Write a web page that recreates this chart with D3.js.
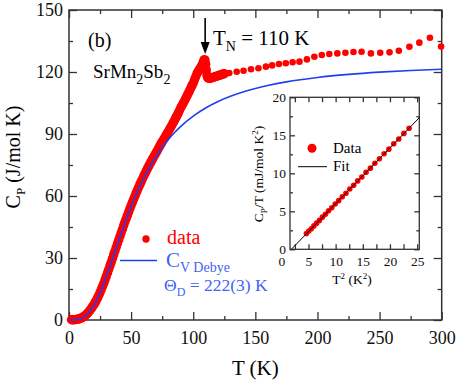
<!DOCTYPE html>
<html>
<head>
<meta charset="utf-8">
<script src="https://cdn.jsdelivr.net/npm/d3@7"></script>
<style>
body { margin: 0; background: #fff; }
</style>
</head>
<body>
<script>
// main panel: dense low-T data (band of dots) and sparse high-T points
var denseT = [2,3,4,5,6,7,8,9,10,11,12,13,14,15,16,17,18,19,20,
  21,22,23,24,25,26,27,28,29,30,31,32,33,34,35,36,37,38,39,40,
  41,42,43,44,45,46,47,48,49,50,51,52,53,54,55,56,57,58,59,60,
  61,62,63,64,65,66,67,68,69,70,71,72,73,74,75,76,77,78,79,80,
  81,82,83,84,85,86,87,88,89,90,91,92,93,94,95,96,97,98,99,100,
  101,102,103,104,105,106,107,108,108.5,109,109.5,110,110.5,111,111.5,112,
  113,114,115,116,117,118,119,120,121,122,123,124,125];
var denseC = [0.1,0.1,0.15,0.2,0.3,0.4,0.55,0.75,1.0,1.3,1.7,2.2,2.7,3.3,4.0,4.8,5.6,6.5,7.4,
  8.4,9.5,10.7,12.0,13.3,14.8,16.3,17.8,19.4,21.1,22.8,24.5,26.3,28.0,29.8,31.6,33.4,35.2,37.0,38.7,
  40.5,42.2,43.9,45.7,47.4,49.0,50.6,52.2,53.8,55.4,56.9,58.4,59.9,61.4,62.8,64.2,65.5,66.8,68.1,69.4,
  70.6,71.9,73.1,74.2,75.4,76.5,77.6,78.7,79.8,80.8,81.9,83.0,84.1,85.2,86.2,87.2,88.2,89.2,90.3,91.3,
  92.4,93.4,94.5,95.6,96.7,97.9,99.0,100.2,101.5,102.8,103.9,105.0,106.1,107.3,108.5,109.7,110.9,112.2,113.4,114.7,
  116.2,117.7,119.2,120.3,121.3,122.3,123.3,124.6,125.4,126.0,125.6,123.8,121.0,118.6,117.5,117.1,
  116.9,117.0,117.2,117.4,117.6,117.8,118.0,118.2,118.4,118.6,118.8,119.0,119.2];

var sparseT = [129,135,140.5,146.5,152.5,158.5,163.5,169,174.5,180,185.5,191.5,197.5,203.5,
  209.5,216,222.5,229,235.5,243,250.5,258,265.5,274,282,290.5,299.5];
var sparseC = [119.5,120.1,120.6,121.3,121.8,122.6,123.2,123.9,124.2,124.7,125.0,126.1,127.4,128.2,
  128.7,129.0,129.3,129.7,129.8,129.0,129.3,129.5,130.3,132.2,134.2,136.6,132.3];

// Debye curve, theta_D = 222 K
var debyeT = [0,2,5,8,10,12,15,20,25,30,35,40,45,50,55,60,65,70,75,80,85,90,
  100,110,120,130,140,150,160,175,200,225,250,275,300];
var debyeC = [0,0.01,0.11,0.46,0.89,1.54,3.00,7.01,13.12,20.89,29.56,38.43,46.97,54.89,62.06,68.46,
  74.06,79.04,83.48,87.34,90.71,93.70,98.67,102.59,105.73,108.26,110.34,112.05,113.48,115.23,
  117.35,118.84,119.93,120.74,121.35];

var xMajor = [0,50,100,150,200,250,300];
var xMinor = [25,75,125,175,225,275];
var yMajor = [0,30,60,90,120,150];
var yMinor = [15,45,75,105,135];
var TN = 110;

// inset: Cp/T vs T^2
var insetX = [4.62,5.06,5.52,6.00,6.50,7.02,7.56,8.12,8.70,9.30,9.92,10.56,11.22,11.90,
  12.60,13.32,14.06,14.82,15.60,16.40,17.22,18.06,18.92,19.80,20.70,21.62,22.56,23.52];
var insetY = [2.08,2.40,2.70,3.08,3.44,3.80,4.23,4.60,5.06,5.47,5.96,6.40,6.92,7.38,
  7.93,8.42,9.00,9.52,10.14,10.68,11.33,11.90,12.58,13.18,13.88,14.52,15.25,15.92];
var fitX = [1.84,25.4];
var fitY = [0,17.32];
var ixLabels = [0,5,10,15,20,25];
var ixTicks = [2.5,5,7.5,10,12.5,15,17.5,20,22.5,25];
var iyMajor = [0,5,10,15,20];
var iyMinor = [2.5,7.5,12.5,17.5];

var width = 457, height = 380;
var ink = "#333", red = "#ff0000", blue = "#1f3ff0", blueText = "#4164f6";
var serif = "'Liberation Serif', serif";

var svg = d3.select("body").append("svg")
    .attr("width", width)
    .attr("height", height)
    .style("display", "block")
    .style("font-family", serif);

var x = d3.scaleLinear().domain([0, 300]).range([69, 441.7]);
var y = d3.scaleLinear().domain([0, 150]).range([320, 10]);

function styleAxis(g, fs){
  g.attr("font-family", null).style("font-family", serif);
  g.select(".domain").remove();
  g.selectAll(".tick line").attr("stroke", ink).attr("stroke-width", 1.3);
  g.selectAll(".tick text").attr("fill", "#111")
      .style("font-size", fs + "px").style("font-family", serif);
}

// main axes, ticks pointing inward on all four sides
svg.append("g").attr("transform", "translate(0,320)")
    .call(d3.axisBottom(x).tickValues(xMajor).tickSize(-8).tickPadding(11))
    .call(styleAxis, 18);
svg.append("g").attr("transform", "translate(0,320)")
    .call(d3.axisBottom(x).tickValues(xMinor).tickSize(-4).tickFormat(""))
    .call(styleAxis, 18);
svg.append("g").attr("transform", "translate(0,10)")
    .call(d3.axisTop(x).tickValues(xMajor).tickSize(-8).tickFormat(""))
    .call(styleAxis, 18);
svg.append("g").attr("transform", "translate(0,10)")
    .call(d3.axisTop(x).tickValues(xMinor).tickSize(-4).tickFormat(""))
    .call(styleAxis, 18);
svg.append("g").attr("transform", "translate(69,0)")
    .call(d3.axisLeft(y).tickValues(yMajor).tickSize(-8).tickPadding(6))
    .call(styleAxis, 18);
svg.append("g").attr("transform", "translate(69,0)")
    .call(d3.axisLeft(y).tickValues(yMinor).tickSize(-4).tickFormat(""))
    .call(styleAxis, 18);
svg.append("g").attr("transform", "translate(441.7,0)")
    .call(d3.axisRight(y).tickValues(yMajor).tickSize(-8).tickFormat(""))
    .call(styleAxis, 18);
svg.append("g").attr("transform", "translate(441.7,0)")
    .call(d3.axisRight(y).tickValues(yMinor).tickSize(-4).tickFormat(""))
    .call(styleAxis, 18);

svg.append("rect")
    .attr("x", x(0)).attr("y", y(150))
    .attr("width", x(300) - x(0)).attr("height", y(0) - y(150))
    .attr("fill", "none").attr("stroke", ink).attr("stroke-width", 1.5);

// data
var dense = denseT.map(function(t, i){ return [t, denseC[i]]; });
var sparse = sparseT.map(function(t, i){ return [t, sparseC[i]]; });

svg.append("g").selectAll("circle")
    .data(dense)
  .enter().append("circle")
    .attr("cx", function(d){ return x(d[0]); })
    .attr("cy", function(d){ return y(d[1]); })
    .attr("r", 4.7)
    .attr("fill", red);

svg.append("g").selectAll("circle")
    .data(sparse)
  .enter().append("circle")
    .attr("cx", function(d){ return x(d[0]); })
    .attr("cy", function(d){ return y(d[1]); })
    .attr("r", 3.3)
    .attr("fill", red);

var debyeLine = d3.line()
    .x(function(d, i){ return x(debyeT[i]); })
    .y(function(d){ return y(d); })
    .curve(d3.curveMonotoneX);

svg.append("path")
    .datum(debyeC)
    .attr("d", debyeLine)
    .attr("fill", "none")
    .attr("stroke", blue)
    .attr("stroke-width", 1.6);

// axis titles
svg.append("text")
    .attr("x", (x(0) + x(300)) / 2).attr("y", 375)
    .attr("text-anchor", "middle")
    .style("font-size", "21px")
    .text("T (K)");

var yt = svg.append("text")
    .attr("transform", "translate(20,157) rotate(-90)")
    .attr("text-anchor", "middle")
    .style("font-size", "20px");
yt.append("tspan").text("C");
yt.append("tspan").attr("dy", 5).style("font-size", "13px").text("P");
yt.append("tspan").attr("dy", -5).text(" (J/mol K)");

// annotations
svg.append("text").attr("x", 88).attr("y", 47)
    .style("font-size", "20px").text("(b)");

var sm = svg.append("text").attr("x", 93).attr("y", 78).style("font-size", "19px");
sm.append("tspan").text("SrMn");
sm.append("tspan").attr("dy", 6).style("font-size", "14px").text("2");
sm.append("tspan").attr("dy", -6).text("Sb");
sm.append("tspan").attr("dy", 6).style("font-size", "14px").text("2");

var ax = x(TN) - 0.5;
svg.append("line")
    .attr("x1", ax).attr("x2", ax).attr("y1", 18).attr("y2", 45)
    .attr("stroke", "#000").attr("stroke-width", 1.6);
svg.append("path")
    .attr("d", "M" + (ax - 4.5) + ",42L" + (ax + 4.5) + ",42L" + ax + ",54Z")
    .attr("fill", "#000");

var tn = svg.append("text").attr("x", 213).attr("y", 45).style("font-size", "21px");
tn.append("tspan").text("T");
tn.append("tspan").attr("dy", 6).style("font-size", "14px").text("N");
tn.append("tspan").attr("dy", -6).text(" = 110 K");

// legend of main panel
svg.append("circle").attr("cx", 146).attr("cy", 239).attr("r", 3.7).attr("fill", red);
svg.append("text").attr("x", 167).attr("y", 244)
    .attr("fill", red).style("font-size", "20px").text("data");

svg.append("line").attr("x1", 120).attr("x2", 157).attr("y1", 260.5).attr("y2", 260.5)
    .attr("stroke", blue).attr("stroke-width", 1.6);
var cv = svg.append("text").attr("x", 166).attr("y", 267)
    .attr("fill", blueText).style("font-size", "21px");
cv.append("tspan").text("C");
cv.append("tspan").attr("dy", 5).style("font-size", "14px").text("V Debye");

var th = svg.append("text").attr("x", 164).attr("y", 291)
    .attr("fill", blueText).style("font-size", "17.5px");
th.append("tspan").text("\u0398");
th.append("tspan").attr("dy", 5).style("font-size", "12px").text("D");
th.append("tspan").attr("dy", -5).text(" = 222(3) K");

// inset
var ix = d3.scaleLinear().domain([1.6, 25.4]).range([290, 419.3]);
var iy = d3.scaleLinear().domain([0, 20]).range([249.3, 97.3]);

svg.append("rect")
    .attr("x", ix(1.6)).attr("y", iy(20))
    .attr("width", ix(25.4) - ix(1.6)).attr("height", iy(0) - iy(20))
    .attr("fill", "#fff");

svg.append("g").attr("transform", "translate(0," + iy(0) + ")")
    .call(d3.axisBottom(ix).tickValues(ixLabels).tickSize(0).tickPadding(7.5))
    .call(styleAxis, 13.5);
svg.append("g").attr("transform", "translate(0," + iy(0) + ")")
    .call(d3.axisBottom(ix).tickValues(ixTicks).tickSize(-5).tickFormat(""))
    .call(styleAxis, 13.5);
svg.append("g").attr("transform", "translate(0," + iy(20) + ")")
    .call(d3.axisTop(ix).tickValues(ixTicks).tickSize(-5).tickFormat(""))
    .call(styleAxis, 13.5);
svg.append("g").attr("transform", "translate(" + ix(1.6) + ",0)")
    .call(d3.axisLeft(iy).tickValues(iyMajor).tickSize(-5).tickPadding(4))
    .call(styleAxis, 13.5);
svg.append("g").attr("transform", "translate(" + ix(1.6) + ",0)")
    .call(d3.axisLeft(iy).tickValues(iyMinor).tickSize(-3).tickFormat(""))
    .call(styleAxis, 13.5);
svg.append("g").attr("transform", "translate(" + ix(25.4) + ",0)")
    .call(d3.axisRight(iy).tickValues(iyMajor).tickSize(-5).tickFormat(""))
    .call(styleAxis, 13.5);
svg.append("g").attr("transform", "translate(" + ix(25.4) + ",0)")
    .call(d3.axisRight(iy).tickValues(iyMinor).tickSize(-3).tickFormat(""))
    .call(styleAxis, 13.5);

svg.append("rect")
    .attr("x", ix(1.6)).attr("y", iy(20))
    .attr("width", ix(25.4) - ix(1.6)).attr("height", iy(0) - iy(20))
    .attr("fill", "none").attr("stroke", ink).attr("stroke-width", 1.3);

svg.append("g").selectAll("circle")
    .data(insetX)
  .enter().append("circle")
    .attr("cx", function(d){ return ix(d); })
    .attr("cy", function(d, i){ return iy(insetY[i]); })
    .attr("r", 2.8)
    .attr("fill", red);

svg.append("path")
    .datum(fitX)
    .attr("d", d3.line().x(function(d){ return ix(d); }).y(function(d, i){ return iy(fitY[i]); }))
    .attr("stroke", "#000").attr("stroke-width", 1).attr("fill", "none");

var ixt = svg.append("text").attr("x", 352).attr("y", 284)
    .attr("text-anchor", "middle").style("font-size", "13.5px");
ixt.append("tspan").text("T");
ixt.append("tspan").attr("dy", -5).style("font-size", "9px").text("2");
ixt.append("tspan").attr("dy", 5).text(" (K");
ixt.append("tspan").attr("dy", -5).style("font-size", "9px").text("2");
ixt.append("tspan").attr("dy", 5).text(")");

var iyt = svg.append("text")
    .attr("transform", "translate(263,174) rotate(-90)")
    .attr("text-anchor", "middle").style("font-size", "13.5px");
iyt.append("tspan").text("C");
iyt.append("tspan").attr("dy", 4).style("font-size", "9px").text("P");
iyt.append("tspan").attr("dy", -4).text("/T (mJ/mol K");
iyt.append("tspan").attr("dy", -5).style("font-size", "9px").text("2");
iyt.append("tspan").attr("dy", 5).text(")");

// inset legend
svg.append("circle").attr("cx", 312).attr("cy", 148.3).attr("r", 4.5).attr("fill", red);
svg.append("text").attr("x", 333).attr("y", 153).style("font-size", "15px").text("Data");
svg.append("line").attr("x1", 298).attr("x2", 327).attr("y1", 166.7).attr("y2", 166.7)
    .attr("stroke", "#000").attr("stroke-width", 1);
svg.append("text").attr("x", 333).attr("y", 171).style("font-size", "15px").text("Fit");
</script>
</body>
</html>
